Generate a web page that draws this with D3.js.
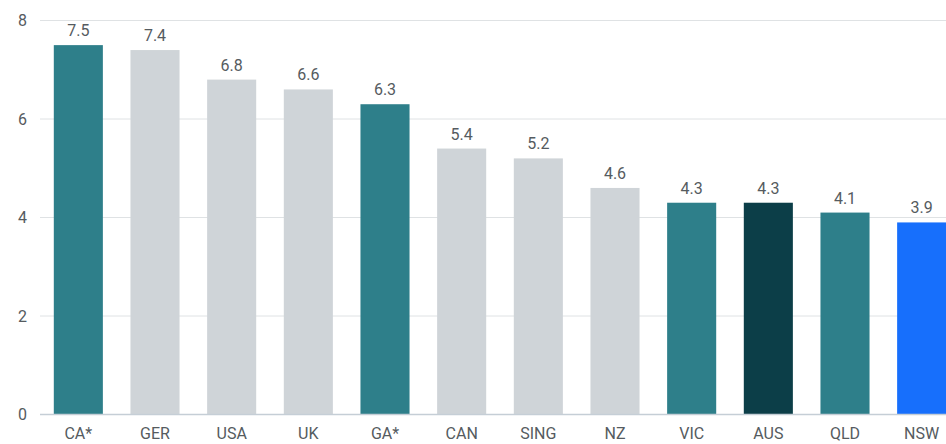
<!DOCTYPE html>
<html>
<head>
<meta charset="utf-8">
<script src="https://cdn.jsdelivr.net/npm/d3@7"></script>
<style>
  body { margin: 0; background: #fff; }
  svg { display: block; font-family: Roboto, "Noto Sans", sans-serif; }
</style>
</head>
<body>
<div id="chart"></div>
<script>
const categories = ["CA*", "GER", "USA", "UK", "GA*", "CAN", "SING", "NZ", "VIC", "AUS", "QLD", "NSW"]
const values = [7.5, 7.4, 6.8, 6.6, 6.3, 5.4, 5.2, 4.6, 4.3, 4.3, 4.1, 3.9]
const groups = ["state", "other", "other", "other", "state", "other", "other", "other", "state", "nation", "state", "nsw"]
const yTicks = [0, 2, 4, 6, 8]

const colors = { state: "#2e7f8a", other: "#cfd4d8", nation: "#0c3e48", nsw: "#176ffc" }

const width = 946, height = 444

const svg = d3.select("#chart").append("svg")
    .attr("width", width)
    .attr("height", height)

const x = d3.scaleBand()
    .domain(categories)
    .range([40, 960])
    .paddingInner(0.36)
    .paddingOuter(0.18)

const y = d3.scaleLinear()
    .domain([0, 8])
    .range([414.5, 20.5])

// gridlines
svg.append("g")
    .selectAll("line")
    .data(yTicks.filter(d => d > 0))
    .enter()
    .append("line")
        .attr("x1", 40)
        .attr("x2", width)
        .attr("y1", d => y(d))
        .attr("y2", d => y(d))
        .attr("stroke", "#dfe2e4")
        .attr("stroke-width", 1)

// y tick labels
svg.append("g")
    .selectAll("text")
    .data(yTicks)
    .enter()
    .append("text")
        .attr("x", 27)
        .attr("y", d => y(d))
        .attr("dy", "0.35em")
        .attr("text-anchor", "end")
        .attr("font-size", 16)
        .attr("fill", "#555b60")
        .text(d => d)

const data = categories.map((c, i) => ({ cat: c, val: values[i], grp: groups[i] }))

// bars
svg.append("g")
    .selectAll("rect")
    .data(data)
    .enter()
    .append("rect")
        .attr("x", d => x(d.cat))
        .attr("y", d => y(d.val))
        .attr("width", x.bandwidth())
        .attr("height", d => y(0) - y(d.val))
        .attr("fill", d => colors[d.grp])

// baseline
svg.append("line")
    .attr("x1", 40)
    .attr("x2", width)
    .attr("y1", y(0))
    .attr("y2", y(0))
    .attr("stroke", "#c5ced6")
    .attr("stroke-width", 1.5)

// value labels
svg.append("g")
    .selectAll("text")
    .data(data)
    .enter()
    .append("text")
        .attr("x", d => x(d.cat) + x.bandwidth() / 2)
        .attr("y", d => y(d.val) - 9)
        .attr("text-anchor", "middle")
        .attr("font-size", 16)
        .attr("fill", "#555b60")
        .text(d => d3.format(".1f")(d.val))

// x axis labels
svg.append("g")
    .selectAll("text")
    .data(categories)
    .enter()
    .append("text")
        .attr("x", d => x(d) + x.bandwidth() / 2)
        .attr("y", 439)
        .attr("text-anchor", "middle")
        .attr("font-size", 16)
        .attr("fill", "#555b60")
        .text(d => d)
</script>
</body>
</html>
